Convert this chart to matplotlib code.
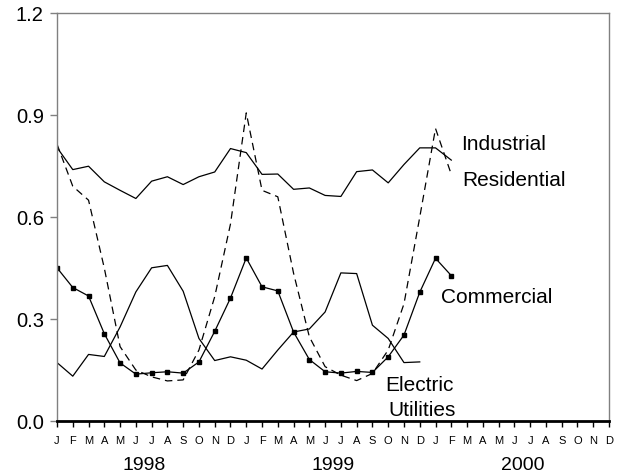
import numpy as np
import matplotlib
matplotlib.use('Agg')
import matplotlib.pyplot as plt
import matplotlib.transforms as mtransforms

plt.rcParams['font.family'] = ['Liberation Sans', 'DejaVu Sans']

# monthly values, Jan 1998 onward
months = ['J', 'F', 'M', 'A', 'M', 'J', 'J', 'A', 'S', 'O', 'N', 'D'] * 3
years = ['1998', '1999', '2000']

industrial = [0.805, 0.740, 0.750, 0.704, 0.679, 0.655, 0.706, 0.719, 0.696, 0.719, 0.733, 0.802,
              0.790, 0.726, 0.727, 0.682, 0.686, 0.664, 0.661, 0.734, 0.739, 0.701, 0.755, 0.804,
              0.804, 0.768]
residential = [0.815, 0.691, 0.650, 0.450, 0.219, 0.150, 0.130, 0.118, 0.121, 0.209, 0.366, 0.580,
               0.907, 0.679, 0.660, 0.435, 0.248, 0.160, 0.135, 0.119, 0.140, 0.209, 0.345, 0.600,
               0.861, 0.726]
commercial = [0.451, 0.393, 0.368, 0.257, 0.171, 0.138, 0.142, 0.145, 0.141, 0.174, 0.264, 0.362,
              0.480, 0.395, 0.383, 0.262, 0.181, 0.145, 0.141, 0.146, 0.143, 0.189, 0.253, 0.379,
              0.479, 0.428]
electric = [0.172, 0.132, 0.196, 0.190, 0.277, 0.380, 0.451, 0.458, 0.382, 0.243, 0.178, 0.189,
            0.179, 0.153, 0.209, 0.262, 0.271, 0.321, 0.436, 0.434, 0.282, 0.243, 0.172, 0.174]

fig = plt.figure(figsize=(6.25, 4.76), dpi=100)
ax = fig.add_axes([0.0912, 0.1155, 0.8832, 0.8565])

ax.plot(np.arange(len(industrial)), industrial, color='black', lw=0.9)
ax.plot(np.arange(len(residential)), residential, color='black', lw=0.9, dashes=(6, 4))
ax.plot(np.arange(len(commercial)), commercial, color='black', lw=0.9,
        marker='s', markersize=3.5)
ax.plot(np.arange(len(electric)), electric, color='black', lw=0.9)

ax.text(25.65, 0.815, 'Industrial', fontsize=15, va='center', ha='left')
ax.text(25.7, 0.709, 'Residential', fontsize=15, va='center', ha='left')
ax.text(24.35, 0.365, 'Commercial', fontsize=15, va='center', ha='left')
ax.text(20.8, 0.106, 'Electric', fontsize=15, va='center', ha='left')
ax.text(21.0, 0.032, 'Utilities', fontsize=15, va='center', ha='left')

ax.set_xlim(0, 35)
ax.set_ylim(0, 1.2)
ax.set_yticks([0.0, 0.3, 0.6, 0.9, 1.2])
ax.set_yticklabels(['0.0', '0.3', '0.6', '0.9', '1.2'], fontsize=14.5)
ax.set_xticks(np.arange(36))
ax.set_xticklabels(months, fontsize=8)

for s in ['left', 'top', 'right']:
    ax.spines[s].set_color('#808080')
    ax.spines[s].set_linewidth(1.0)
ax.spines['bottom'].set_color('black')
ax.spines['bottom'].set_linewidth(2.0)
ax.tick_params(axis='y', colors='#808080', labelcolor='black', length=5, width=1, pad=4.5)
ax.tick_params(axis='x', colors='black', length=4, width=1, pad=7)

trans = mtransforms.blended_transform_factory(ax.transData, fig.transFigure)
for i, yr in enumerate(years):
    ax.text(i * 12 + 5.5, 1 - 465 / 476, yr, fontsize=14, ha='center', va='center',
            transform=trans)

fig.savefig('out.png', dpi=100)
